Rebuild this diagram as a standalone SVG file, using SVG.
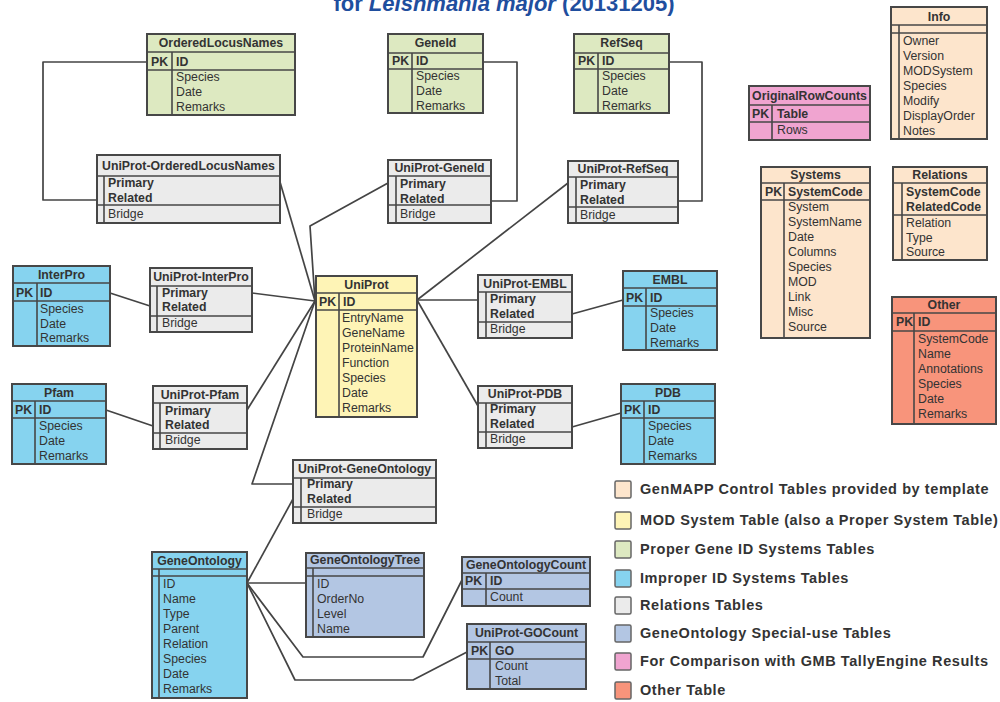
<svg xmlns="http://www.w3.org/2000/svg" width="1000" height="702" viewBox="0 0 1000 702">
<style>
.tb{stroke:#474747;stroke-width:2}
.ln{stroke:#474747;stroke-width:1.6;fill:none}
.t{font-family:"Liberation Sans",Arial,sans-serif;font-size:12.3px;fill:#333}
.b{font-weight:bold}
.h{font-family:"Liberation Sans",Arial,sans-serif;font-size:12.3px;fill:#333;font-weight:bold;text-anchor:middle}
.conn{fill:none;stroke:#444;stroke-width:1.7;stroke-linejoin:round}
.gr{fill:#dde9c1}
.bl{fill:#86d3ef}
.ye{fill:#fef4b6}
.rl{fill:#ebebeb}
.pe{fill:#fde5cc}
.go{fill:#b3c6e3}
.pk{fill:#f0a4d0}
.ot{fill:#f8947b}
.lg{font-family:"Liberation Sans",Arial,sans-serif;font-size:14.5px;font-weight:bold;fill:#333;letter-spacing:0.58px}
.lb{stroke:#666;stroke-width:1.5}
</style>
<text x="504" y="11" text-anchor="middle" font-family="Liberation Sans, Arial, sans-serif" font-size="22" font-weight="bold" fill="#1f4e9e">for <tspan font-style="italic">Leishmania major</tspan> (20131205)</text>

<g id="connectors">
<polyline class="conn" points="147,62 43,62 43,200 97,200"/>
<polyline class="conn" points="483,62 517,62 517,201 491,201"/>
<polyline class="conn" points="669,62 702,62 702,201 678,201"/>
<polyline class="conn" points="280,182 315,301"/>
<polyline class="conn" points="388,183 310,226 315,301"/>
<polyline class="conn" points="252,293 315,301"/>
<polyline class="conn" points="110,293 150,306"/>
<polyline class="conn" points="106,410 153,426"/>
<polyline class="conn" points="247,410 315,301"/>
<polyline class="conn" points="315,301 252,484 293,484"/>
<polyline class="conn" points="417,300 568,183"/>
<polyline class="conn" points="417,300 478,300"/>
<polyline class="conn" points="417,300 478,406"/>
<polyline class="conn" points="572,314 623,300"/>
<polyline class="conn" points="572,427 621,413"/>
<polyline class="conn" points="247,583 293,499"/>
<polyline class="conn" points="247,583 306,583"/>
<polyline class="conn" points="247,583 303,657 423,657 462,580"/>
<polyline class="conn" points="247,583 295,680 413,680 467,652"/>
</g>

<g id="OrderedLocusNames">
<rect class="tb gr" x="147" y="34" width="148" height="81"/>
<path class="ln" d="M147,52H295M147,70H295M172,52V115"/>
<text class="h" x="221" y="47">OrderedLocusNames</text>
<text class="t b" x="151" y="66">PK</text><text class="t b" x="176" y="66">ID</text>
<text class="t" x="176" y="81">Species</text><text class="t" x="176" y="96">Date</text><text class="t" x="176" y="111">Remarks</text>
</g>

<g id="GeneId">
<rect class="tb gr" x="388" y="34" width="95" height="79"/>
<path class="ln" d="M388,53H483M388,69H483M412,53V113"/>
<text class="h" x="435.5" y="47">GeneId</text>
<text class="t b" x="392" y="65">PK</text><text class="t b" x="416" y="65">ID</text>
<text class="t" x="416" y="80">Species</text><text class="t" x="416" y="95">Date</text><text class="t" x="416" y="110">Remarks</text>
</g>

<g id="RefSeq">
<rect class="tb gr" x="574" y="34" width="95" height="79"/>
<path class="ln" d="M574,53H669M574,69H669M598,53V113"/>
<text class="h" x="621.5" y="47">RefSeq</text>
<text class="t b" x="578" y="65">PK</text><text class="t b" x="602" y="65">ID</text>
<text class="t" x="602" y="80">Species</text><text class="t" x="602" y="95">Date</text><text class="t" x="602" y="110">Remarks</text>
</g>

<g id="UniProt-OrderedLocusNames">
<rect class="tb rl" x="97" y="155" width="183" height="68"/>
<path class="ln" d="M97,176H280M97,205H280M104,176V223"/>
<text class="h" x="188.5" y="170">UniProt-OrderedLocusNames</text>
<text class="t b" x="108" y="187">Primary</text><text class="t b" x="108" y="202">Related</text>
<text class="t" x="108" y="218">Bridge</text>
</g>

<g id="UniProt-GeneId">
<rect class="tb rl" x="388" y="160" width="103" height="63"/>
<path class="ln" d="M388,176H491M388,205H491M396,176V223"/>
<text class="h" x="439.5" y="172">UniProt-GeneId</text>
<text class="t b" x="400" y="188">Primary</text><text class="t b" x="400" y="203">Related</text>
<text class="t" x="400" y="218">Bridge</text>
</g>

<g id="UniProt-RefSeq">
<rect class="tb rl" x="568" y="161" width="110" height="62"/>
<path class="ln" d="M568,177H678M568,207H678M576,177V223"/>
<text class="h" x="623" y="173">UniProt-RefSeq</text>
<text class="t b" x="580" y="189">Primary</text><text class="t b" x="580" y="204">Related</text>
<text class="t" x="580" y="219">Bridge</text>
</g>

<g id="Info">
<rect class="tb pe" x="891" y="7" width="96" height="132"/>
<path class="ln" d="M891,25H987M891,33H987M899,25V139"/>
<text class="h" x="939" y="21">Info</text>
<text class="t" x="903" y="45">Owner</text><text class="t" x="903" y="60">Version</text><text class="t" x="903" y="75">MODSystem</text>
<text class="t" x="903" y="90">Species</text><text class="t" x="903" y="105">Modify</text><text class="t" x="903" y="120">DisplayOrder</text>
<text class="t" x="903" y="135">Notes</text>
</g>

<g id="OriginalRowCounts">
<rect class="tb pk" x="749" y="86" width="121" height="54"/>
<path class="ln" d="M749,105H870M749,122H870M772,105V140"/>
<text class="h" x="809.5" y="100">OriginalRowCounts</text>
<text class="t b" x="752" y="118">PK</text><text class="t b" x="777" y="118">Table</text>
<text class="t" x="777" y="134">Rows</text>
</g>

<g id="Systems">
<rect class="tb pe" x="761" y="167" width="109" height="171"/>
<path class="ln" d="M761,183H870M761,200H870M784,183V338"/>
<text class="h" x="815.5" y="179">Systems</text>
<text class="t b" x="765" y="196">PK</text><text class="t b" x="788" y="196">SystemCode</text>
<text class="t" x="788" y="211">System</text><text class="t" x="788" y="226">SystemName</text><text class="t" x="788" y="241">Date</text>
<text class="t" x="788" y="256">Columns</text><text class="t" x="788" y="271">Species</text><text class="t" x="788" y="286">MOD</text>
<text class="t" x="788" y="301">Link</text><text class="t" x="788" y="316">Misc</text><text class="t" x="788" y="331">Source</text>
</g>

<g id="Relations">
<rect class="tb pe" x="893" y="167" width="94" height="93"/>
<path class="ln" d="M893,183H987M893,215H987M902,183V260"/>
<text class="h" x="940" y="179">Relations</text>
<text class="t b" x="906" y="196">SystemCode</text><text class="t b" x="906" y="211">RelatedCode</text>
<text class="t" x="906" y="227">Relation</text><text class="t" x="906" y="242">Type</text><text class="t" x="906" y="256">Source</text>
</g>

<g id="Other">
<rect class="tb ot" x="892" y="297" width="104" height="127"/>
<path class="ln" d="M892,313H996M892,331H996M914,313V424"/>
<text class="h" x="944" y="309">Other</text>
<text class="t b" x="896" y="326">PK</text><text class="t b" x="918" y="326">ID</text>
<text class="t" x="918" y="343">SystemCode</text><text class="t" x="918" y="358">Name</text><text class="t" x="918" y="373">Annotations</text>
<text class="t" x="918" y="388">Species</text><text class="t" x="918" y="403">Date</text><text class="t" x="918" y="418">Remarks</text>
</g>

<g id="InterPro">
<rect class="tb bl" x="13" y="266" width="97" height="80"/>
<path class="ln" d="M13,283H110M13,301H110M37,283V346"/>
<text class="h" x="61.5" y="279">InterPro</text>
<text class="t b" x="16" y="297">PK</text><text class="t b" x="40" y="297">ID</text>
<text class="t" x="40" y="313">Species</text><text class="t" x="40" y="328">Date</text><text class="t" x="40" y="342">Remarks</text>
</g>

<g id="UniProt-InterPro">
<rect class="tb rl" x="150" y="268" width="102" height="64"/>
<path class="ln" d="M150,286H252M150,316H252M157,286V332"/>
<text class="h" x="201" y="281">UniProt-InterPro</text>
<text class="t b" x="162" y="297">Primary</text><text class="t b" x="162" y="311">Related</text>
<text class="t" x="162" y="327">Bridge</text>
</g>

<g id="Pfam">
<rect class="tb bl" x="12" y="384" width="94" height="80"/>
<path class="ln" d="M12,401H106M12,418H106M35,401V464"/>
<text class="h" x="59" y="397">Pfam</text>
<text class="t b" x="15" y="414">PK</text><text class="t b" x="39" y="414">ID</text>
<text class="t" x="39" y="430">Species</text><text class="t" x="39" y="445">Date</text><text class="t" x="39" y="460">Remarks</text>
</g>

<g id="UniProt-Pfam">
<rect class="tb rl" x="153" y="386" width="94" height="63"/>
<path class="ln" d="M153,403H247M153,433H247M160,403V449"/>
<text class="h" x="200" y="399">UniProt-Pfam</text>
<text class="t b" x="165" y="415">Primary</text><text class="t b" x="165" y="429">Related</text>
<text class="t" x="165" y="444">Bridge</text>
</g>

<g id="UniProt">
<rect class="tb ye" x="316" y="276" width="101" height="141"/>
<path class="ln" d="M316,293H417M316,310H417M339,293V417"/>
<text class="h" x="366.5" y="289">UniProt</text>
<text class="t b" x="319" y="306">PK</text><text class="t b" x="343" y="306">ID</text>
<text class="t" x="342" y="322">EntryName</text><text class="t" x="342" y="337">GeneName</text><text class="t" x="342" y="352">ProteinName</text>
<text class="t" x="342" y="367">Function</text><text class="t" x="342" y="382">Species</text><text class="t" x="342" y="397">Date</text>
<text class="t" x="342" y="412">Remarks</text>
</g>

<g id="UniProt-EMBL">
<rect class="tb rl" x="478" y="275" width="94" height="63"/>
<path class="ln" d="M478,292H572M478,322H572M486,292V338"/>
<text class="h" x="525" y="288">UniProt-EMBL</text>
<text class="t b" x="490" y="303">Primary</text><text class="t b" x="490" y="318">Related</text>
<text class="t" x="490" y="333">Bridge</text>
</g>

<g id="EMBL">
<rect class="tb bl" x="623" y="271" width="94" height="79"/>
<path class="ln" d="M623,288H717M623,306H717M646,288V350"/>
<text class="h" x="670" y="284">EMBL</text>
<text class="t b" x="626" y="302">PK</text><text class="t b" x="650" y="302">ID</text>
<text class="t" x="650" y="317">Species</text><text class="t" x="650" y="332">Date</text><text class="t" x="650" y="347">Remarks</text>
</g>

<g id="UniProt-PDB">
<rect class="tb rl" x="478" y="386" width="94" height="62"/>
<path class="ln" d="M478,403H572M478,432H572M486,403V448"/>
<text class="h" x="525" y="398">UniProt-PDB</text>
<text class="t b" x="490" y="413">Primary</text><text class="t b" x="490" y="428">Related</text>
<text class="t" x="490" y="443">Bridge</text>
</g>

<g id="PDB">
<rect class="tb bl" x="621" y="384" width="94" height="80"/>
<path class="ln" d="M621,401H715M621,418H715M644,401V464"/>
<text class="h" x="668" y="397">PDB</text>
<text class="t b" x="624" y="414">PK</text><text class="t b" x="648" y="414">ID</text>
<text class="t" x="648" y="430">Species</text><text class="t" x="648" y="445">Date</text><text class="t" x="648" y="460">Remarks</text>
</g>

<g id="UniProt-GeneOntology">
<rect class="tb rl" x="293" y="460" width="143" height="63"/>
<path class="ln" d="M293,478H436M293,507H436M301,478V523"/>
<text class="h" x="364.5" y="473">UniProt-GeneOntology</text>
<text class="t b" x="307" y="488">Primary</text><text class="t b" x="307" y="503">Related</text>
<text class="t" x="307" y="518">Bridge</text>
</g>

<g id="GeneOntology">
<rect class="tb bl" x="152" y="552" width="95" height="146"/>
<path class="ln" d="M152,569H247M152,576H247M159,569V698"/>
<text class="h" x="199.5" y="565">GeneOntology</text>
<text class="t" x="163" y="588">ID</text><text class="t" x="163" y="603">Name</text><text class="t" x="163" y="618">Type</text>
<text class="t" x="163" y="633">Parent</text><text class="t" x="163" y="648">Relation</text><text class="t" x="163" y="663">Species</text>
<text class="t" x="163" y="678">Date</text><text class="t" x="163" y="693">Remarks</text>
</g>

<g id="GeneOntologyTree">
<rect class="tb go" x="306" y="553" width="118" height="84"/>
<path class="ln" d="M306,568H424M306,576H424M313,568V637"/>
<text class="h" x="365" y="564">GeneOntologyTree</text>
<text class="t" x="317" y="588">ID</text><text class="t" x="317" y="603">OrderNo</text><text class="t" x="317" y="618">Level</text>
<text class="t" x="317" y="633">Name</text>
</g>

<g id="GeneOntologyCount">
<rect class="tb go" x="462" y="557" width="128" height="49"/>
<path class="ln" d="M462,573H590M462,589H590M486,573V606"/>
<text class="h" x="526" y="569">GeneOntologyCount</text>
<text class="t b" x="465" y="585">PK</text><text class="t b" x="490" y="585">ID</text>
<text class="t" x="490" y="601">Count</text>
</g>

<g id="UniProt-GOCount">
<rect class="tb go" x="467" y="624" width="119" height="65"/>
<path class="ln" d="M467,642H586M467,659H586M490,642V689"/>
<text class="h" x="526.5" y="637">UniProt-GOCount</text>
<text class="t b" x="471" y="655">PK</text><text class="t b" x="495" y="655">GO</text>
<text class="t" x="495" y="670">Count</text><text class="t" x="495" y="685">Total</text>
</g>

<g id="legend">
<rect class="lb pe" x="615" y="481" width="16" height="17" rx="1.5"/><text class="lg" x="640" y="494">GenMAPP Control Tables provided by template</text>
<rect class="lb ye" x="615" y="512" width="16" height="17" rx="1.5"/><text class="lg" x="640" y="525">MOD System Table (also a Proper System Table)</text>
<rect class="lb gr" x="615" y="541" width="16" height="17" rx="1.5"/><text class="lg" x="640" y="554">Proper Gene ID Systems Tables</text>
<rect class="lb bl" x="615" y="570" width="16" height="17" rx="1.5"/><text class="lg" x="640" y="583">Improper ID Systems Tables</text>
<rect class="lb rl" x="615" y="597" width="16" height="17" rx="1.5"/><text class="lg" x="640" y="610">Relations Tables</text>
<rect class="lb go" x="615" y="625" width="16" height="17" rx="1.5"/><text class="lg" x="640" y="638">GeneOntology Special-use Tables</text>
<rect class="lb pk" x="615" y="653" width="16" height="17" rx="1.5"/><text class="lg" x="640" y="666">For Comparison with GMB TallyEngine Results</text>
<rect class="lb ot" x="615" y="682" width="16" height="17" rx="1.5"/><text class="lg" x="640" y="695">Other Table</text>
</g>
</svg>
